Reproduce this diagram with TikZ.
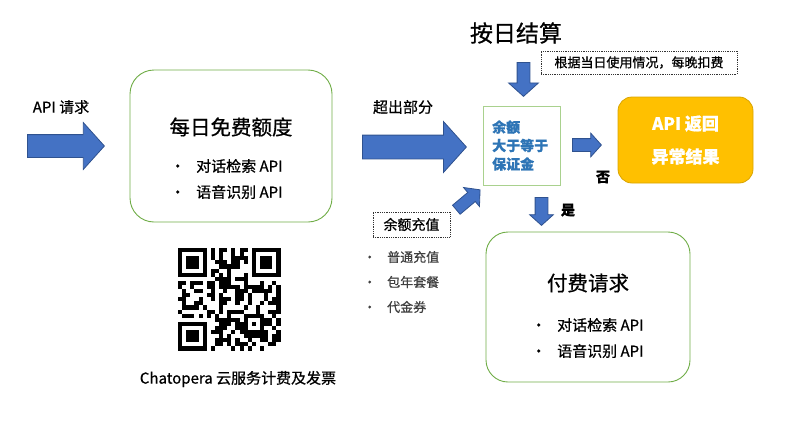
\documentclass[tikz,border=0pt]{standalone}
\usepackage{fontspec}
\setmainfont{Noto Sans CJK SC}[RawFeature={embolden=0.7}]
\usepackage{tikz}
\usetikzlibrary{shapes.arrows, positioning, calc}
\definecolor{arrowblue}{HTML}{4472C4}
\definecolor{arrowedge}{HTML}{2F528F}
\definecolor{boxgreen}{HTML}{70AD47}
\definecolor{lightgreen}{HTML}{A9D18E}
\definecolor{alertorange}{HTML}{FFC000}
\definecolor{alertedge}{HTML}{D9A400}
\definecolor{checkblue}{HTML}{2E75B6}
\definecolor{listgray}{HTML}{404040}
\newcommand{\fsz}[2]{\fontsize{#1}{#2}\selectfont}
\tikzset{
  % Rounded request boxes
  reqbox/.style={
    rectangle, rounded corners=#1, draw=boxgreen, fill=white,
    line width=0.9pt, inner sep=0pt,
  },
  reqbox/.default={24pt},
  % Balance check box
  checkbox/.style={
    rectangle, draw=lightgreen, fill=white, line width=1pt,
    minimum width=77pt, minimum height=79pt, inner sep=0pt,
  },
  % Error result box
  alertbox/.style={
    rectangle, rounded corners=14pt, draw=alertedge, fill=alertorange,
    line width=0.8pt, minimum width=135pt, minimum height=86pt,
    text=white, font=\fsz{17}{33}\bfseries, align=center,
  },
  % Dotted notes
  notebox/.style={
    rectangle, draw=black!80, densely dotted, line width=0.8pt,
    inner sep=0pt, font=\fsz{13}{15},
  },
  % Block arrows: #1 = shaft width, placed by their tail
  blockarrow/.style={
    single arrow, draw=arrowedge, fill=arrowblue, line width=0.8pt,
    inner xsep=0pt, inner ysep=#1/2, single arrow tip angle=96, anchor=tail,
  },
  blockarrow/.default={12pt},
  % Plain labels
  plainlabel/.style={font=\fsz{15}{17}, inner sep=0pt},
  boxtitle/.style={font=\fsz{20.5}{24}, inner sep=0pt},
  bulletlist/.style={anchor=west, align=left, inner sep=0pt, font=\fsz{15}{26}},
}

\begin{document}
\begin{tikzpicture}[x=1pt, y=-1pt]
  \useasboundingbox (0,0) rectangle (800,447);

  % Incoming requests
  \node[plainlabel] (apireq) at (61,107) {API 请求};
  \node[blockarrow=22pt, minimum height=77pt, minimum width=46pt,
        single arrow head extend=12pt] (inarrow) at (27,146) {};

  % Free quota box
  \node[reqbox, minimum width=202pt, minimum height=152pt] (freebox) at (231,146) {};
  \node[boxtitle] (freetitle) at (231,127) {每日免费额度};
  \node[bulletlist] (freelist) at (170,179) {•\hspace{11pt}对话检索 API\\•\hspace{11pt}语音识别 API};

  % Excess usage
  \node[plainlabel] (overlabel) at (403,107) {超出部分};
  \node[blockarrow=23pt, minimum height=104pt, minimum width=50pt,
        single arrow head extend=13.5pt] (overarrow) at (362,147) {};

  % Daily settlement
  \node[font=\fsz{23}{26}, inner sep=0pt] (daily) at (516,33) {按日结算};
  \node[notebox, minimum width=196pt, minimum height=23pt] (nightly) at (639,62.5) {根据当日使用情况，每晚扣费};
  \node[blockarrow=12pt, rotate=270, minimum height=34pt, minimum width=29pt,
        single arrow head extend=8.5pt] (toparrow) at (523.5,62) {};

  % Balance check
  \node[checkbox] (check) at (521.5,145.5) {};
  \node[anchor=west, align=left, inner sep=0pt, text=checkblue,
        font=\fsz{14}{18.5}\bfseries] (checktext) at (492,145.5) {余额\\大于等于\\保证金};

  % No: error result
  \node[blockarrow=12pt, minimum height=29pt, minimum width=23pt,
        single arrow head extend=5.5pt] (noarrow) at (572,145) {};
  \node[plainlabel, font=\fsz{14}{16}\bfseries] (nolabel) at (603,177) {否};
  \node[alertbox] (alert) at (685.5,140) {API 返回\\异常结果};

  % Yes: paid requests
  \node[blockarrow=12pt, rotate=270, minimum height=28pt, minimum width=23pt,
        single arrow head extend=5.5pt] (yesarrow) at (541.5,197) {};
  \node[plainlabel, font=\fsz{14}{16}\bfseries] (yeslabel) at (568,210) {是};
  \node[reqbox=22pt, minimum width=204pt, minimum height=150pt] (paidbox) at (588,307) {};
  \node[boxtitle] (paidtitle) at (588,283) {付费请求};
  \node[bulletlist] (paidlist) at (531,338) {•\hspace{11pt}对话检索 API\\•\hspace{11pt}语音识别 API};

  % Top up
  \node[blockarrow=11pt, rotate=40, minimum height=31pt, minimum width=24pt,
        single arrow head extend=6.5pt] (diagarrow) at (456,210) {};
  \node[notebox, font=\fsz{14}{16}, minimum width=77pt, minimum height=25pt] (topup) at (411.5,224.5) {余额充值};
  \node[bulletlist, font=\fsz{13}{25}, text=listgray] (topuplist) at (363,282)
    {•\hspace{11pt}普通充值\\•\hspace{11pt}包年套餐\\•\hspace{11pt}代金券};

  % QR code
  \begin{scope}[shift={(178,248)}, x=4.1pt, y=-4.1pt]
    \pgfmathsetseed{20}
    \foreach \i in {0,...,24}{
      \foreach \j in {0,...,24}{
        \pgfmathtruncatemacro\qrfill{rnd<0.5 && !((\i<8 && \j<8) || (\i>16 && \j<8) || (\i<8 && \j>16))}
        \ifnum\qrfill=1 \fill (\i,\j) rectangle ++(1,1); \fi
      }
    }
    \foreach \fx/\fy in {0/0, 18/0, 0/18}{
      \fill (\fx,\fy) rectangle ++(7,7);
      \fill[white] (\fx+1,\fy+1) rectangle ++(5,5);
      \fill (\fx+2,\fy+2) rectangle ++(3,3);
    }
    \fill (16,16) rectangle ++(5,5);
    \fill[white] (17,17) rectangle ++(3,3);
    \fill (18,18) rectangle ++(1,1);
  \end{scope}
  \node[font=\fsz{15}{18}, inner sep=0pt] (qrcaption) at (238,379) {Chatopera 云服务计费及发票};

\end{tikzpicture}
\end{document}
